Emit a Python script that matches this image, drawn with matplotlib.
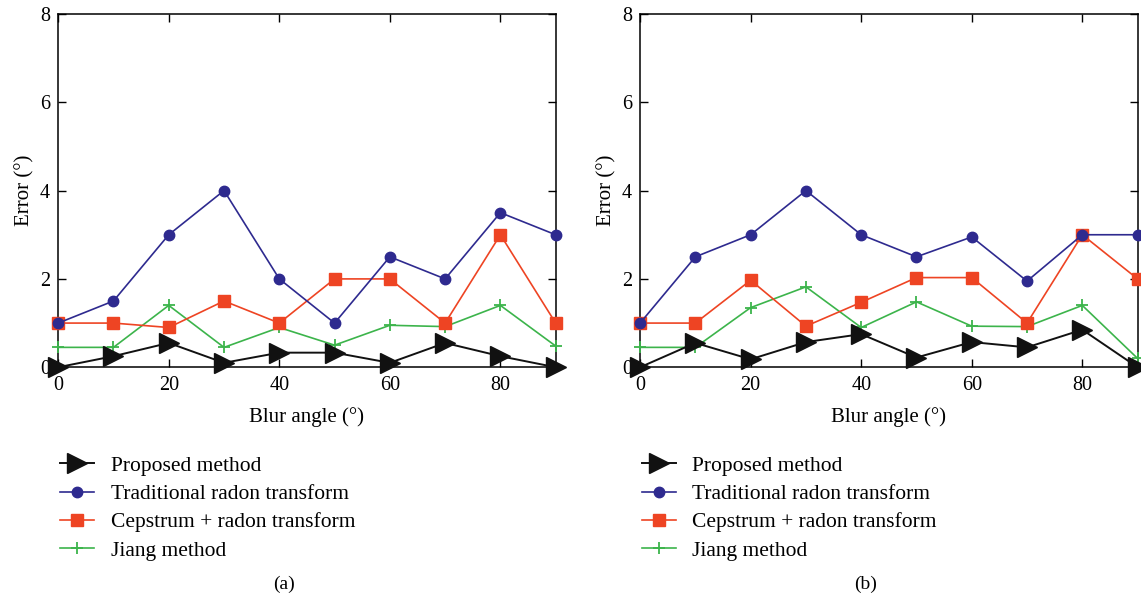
import numpy as np
import matplotlib
matplotlib.use('Agg')
import matplotlib.pyplot as plt

plt.rcParams['font.family'] = ['Liberation Serif', 'DejaVu Serif']

angles = [0, 10, 20, 30, 40, 50, 60, 70, 80, 90]

# panel (a)
proposed_a = [0.0, 0.25, 0.55, 0.1, 0.33, 0.33, 0.1, 0.55, 0.25, 0.0]
traditional_a = [1.0, 1.5, 3.0, 4.0, 2.0, 1.0, 2.5, 2.0, 3.5, 3.0]
cepstrum_a = [1.0, 1.0, 0.9, 1.5, 1.0, 2.0, 2.0, 1.0, 3.0, 1.0]
jiang_a = [0.45, 0.45, 1.4, 0.45, 0.9, 0.5, 0.95, 0.92, 1.4, 0.48]

# panel (b)
proposed_b = [0.0, 0.55, 0.18, 0.57, 0.75, 0.22, 0.57, 0.45, 0.85, 0.0]
traditional_b = [1.0, 2.5, 3.0, 4.0, 3.0, 2.5, 2.95, 1.95, 3.0, 3.0]
cepstrum_b = [1.0, 1.0, 1.97, 0.93, 1.47, 2.03, 2.03, 1.0, 3.0, 2.0]
jiang_b = [0.45, 0.45, 1.35, 1.82, 0.9, 1.48, 0.93, 0.92, 1.4, 0.2]

labels = ['Proposed method', 'Traditional radon transform',
          'Cepstrum + radon transform', 'Jiang method']
captions = ['(a)', '(b)']

fig = plt.figure(figsize=(11.41, 6.06), dpi=100)


def draw_panel(left, data, caption):
    ax = fig.add_axes([left, 0.394, 0.436, 0.583])
    p, t, c, j = data
    ax.plot(angles, j, color='#3cb44b', lw=1.2, marker='+', ms=9, mew=1.3,
            label=labels[3], clip_on=False, zorder=3)
    ax.plot(angles, c, color='#ee4423', lw=1.2, marker='s', ms=9,
            label=labels[2], clip_on=False, zorder=4)
    ax.plot(angles, t, color='#2e2a8f', lw=1.2, marker='o', ms=7.5,
            label=labels[1], clip_on=False, zorder=5)
    ax.plot(angles, p, color='#111111', lw=1.4, marker='>', ms=14,
            label=labels[0], clip_on=False, zorder=6)
    ax.set_xlim(0, 90)
    ax.set_ylim(0, 8)
    ax.set_xticks([0, 20, 40, 60, 80])
    ax.set_yticks([0, 2, 4, 6, 8])
    ax.tick_params(direction='in', top=True, right=True, labelsize=14.5,
                   length=6, width=1, pad=6)
    for s in ax.spines.values():
        s.set_linewidth(1.1)
    ax.set_xlabel('Blur angle (°)', fontsize=15, labelpad=9)
    ax.set_ylabel('Error (°)', fontsize=15, labelpad=4)

    h, l = ax.get_legend_handles_labels()
    order = [3, 2, 1, 0]
    fig.legend([h[i] for i in order], [l[i] for i in order],
               loc='upper left', bbox_to_anchor=(left - 0.006, 0.262),
               frameon=False, fontsize=15.5, handlelength=1.6,
               handletextpad=0.75, labelspacing=0.38, borderaxespad=0)
    fig.text(left + 0.198, 0.028, caption, ha='center', fontsize=14)
    return ax


draw_panel(0.051, [proposed_a, traditional_a, cepstrum_a, jiang_a], captions[0])
draw_panel(0.561, [proposed_b, traditional_b, cepstrum_b, jiang_b], captions[1])

fig.savefig('out.png', dpi=100)
